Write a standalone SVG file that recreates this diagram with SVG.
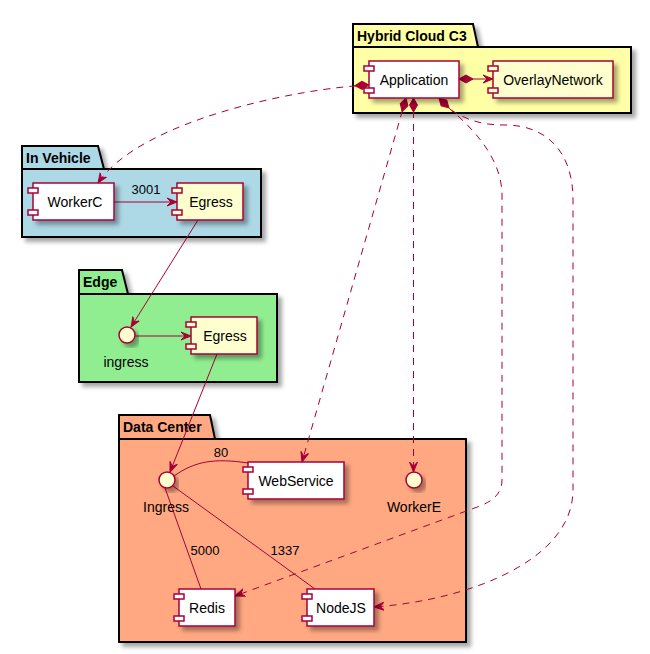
<svg xmlns="http://www.w3.org/2000/svg" width="650" height="654" viewBox="0 0 650 654">
<defs>
<filter id="sh" x="-10%" y="-10%" width="130%" height="140%">
<feDropShadow dx="4" dy="4" stdDeviation="2" flood-color="#000" flood-opacity="0.35"/>
</filter>
<marker id="arr" viewBox="0 -5 12 10" markerWidth="12" markerHeight="10" refX="10" refY="0" orient="auto" markerUnits="userSpaceOnUse">
<path d="M0,-4 L10,0 L0,4 L4,0 Z" fill="#A80036" stroke="#A80036" stroke-width="1"/>
</marker>
<marker id="dia" viewBox="-1 -6 17 12" markerWidth="17" markerHeight="12" refX="0" refY="0" orient="auto" markerUnits="userSpaceOnUse">
<path d="M0,0 L7,-4 L14,0 L7,4 Z" fill="#A80036" stroke="#A80036" stroke-width="1"/>
</marker>
</defs>
<style>
.pkg path.b{stroke:#000;stroke-width:2;filter:url(#sh)}
.pkg path.l{stroke:#000;stroke-width:2;fill:none}
.pt{font-family:"Liberation Sans",Arial,sans-serif;font-size:14px;font-weight:bold;fill:#000}
.c rect{stroke:#A80036;stroke-width:1.5}
.c rect.m{filter:url(#sh)}
.w{fill:#FFFFFF}
.y{fill:#FEFECE}
.i circle{fill:#FEFECE;stroke:#A80036;stroke-width:1.5;filter:url(#sh)}
.t{font-family:"Liberation Sans",Arial,sans-serif;font-size:14px;fill:#000;text-anchor:middle}
.el{font-family:"Liberation Sans",Arial,sans-serif;font-size:13px;fill:#000;text-anchor:middle}
#connectors path{fill:none;stroke:#A80036;stroke-width:1}
#connectors path.d{stroke-dasharray:7,6}
</style>

<g id="pkg-hybrid" class="pkg">
<path class="b" d="M353,24 L473,24 L478,47 L631,47 L631,113 L353,113 Z" fill="#FFFFA5"/>
<path class="l" d="M353,47 L478,47"/>
<text class="pt" x="357" y="41">Hybrid Cloud C3</text>
</g>
<g id="pkg-vehicle" class="pkg">
<path class="b" d="M22,146 L98,146 L104,169 L261,169 L261,237 L22,237 Z" fill="#ADD8E6"/>
<path class="l" d="M22,169 L104,169"/>
<text class="pt" x="26" y="163">In Vehicle</text>
</g>
<g id="pkg-edge" class="pkg">
<path class="b" d="M79,270 L122,270 L128,294 L277,294 L277,382 L79,382 Z" fill="#90EE90"/>
<path class="l" d="M79,294 L128,294"/>
<text class="pt" x="83" y="287">Edge</text>
</g>
<g id="pkg-dc" class="pkg">
<path class="b" d="M119,415 L210,415 L215,439 L466,439 L466,642 L119,642 Z" fill="#FFA882"/>
<path class="l" d="M119,439 L215,439"/>
<text class="pt" x="123" y="432">Data Center</text>
</g>

<g id="connectors">
<path d="M459,79 L493,79" marker-start="url(#dia)" marker-end="url(#arr)"/>
<path class="d" d="M369,85 C300,88 140,120 98,183" marker-start="url(#dia)" marker-end="url(#arr)"/>
<path class="d" d="M406,98 L302,462" marker-start="url(#dia)" marker-end="url(#arr)"/>
<path class="d" d="M413.5,98 L413.5,472" marker-start="url(#dia)" marker-end="url(#arr)"/>
<path class="d" d="M439,98 L451,110 C475,130 502,160 502,195 L502,480 C502,492 495,500 480,506 L235,596" marker-start="url(#dia)" marker-end="url(#arr)"/>
<path class="d" d="M451,110 C470,122 485,125 505,125 C545,125 573,150 573,200 L573,490 C573,560 470,600 374,607" marker-end="url(#arr)"/>
<path d="M114,202 L177,202" marker-end="url(#arr)"/>
<path d="M198,220 L131,327" marker-end="url(#arr)"/>
<path d="M135,336 L191,336" marker-end="url(#arr)"/>
<path d="M217,354 L170,472" marker-end="url(#arr)"/>
<path d="M174,476 C195,461 215,458 248,463"/>
<path d="M165,488 L201,589"/>
<path d="M173,486 L315,589"/>
<text class="el" x="146" y="194">3001</text>
<text class="el" x="221" y="457">80</text>
<text class="el" x="205" y="555">5000</text>
<text class="el" x="285" y="555">1337</text>
</g>

<g id="application" class="c">
<rect class="m w" x="369" y="61" width="90" height="37"/>
<rect class="w" x="364" y="66" width="10" height="5"/>
<rect class="w" x="364" y="88" width="10" height="5"/>
<text class="t" x="414" y="85">Application</text>
</g>
<g id="overlaynetwork" class="c">
<rect class="m y" x="493" y="61" width="120" height="37"/>
<rect class="y" x="488" y="66" width="10" height="5"/>
<rect class="y" x="488" y="88" width="10" height="5"/>
<text class="t" x="553" y="85">OverlayNetwork</text>
</g>
<g id="workerc" class="c">
<rect class="m w" x="33" y="183" width="81" height="37"/>
<rect class="w" x="28" y="188" width="10" height="5"/>
<rect class="w" x="28" y="210" width="10" height="5"/>
<text class="t" x="75" y="207">WorkerC</text>
</g>
<g id="egress-vehicle" class="c">
<rect class="m y" x="177" y="183" width="66" height="37"/>
<rect class="y" x="172" y="188" width="10" height="5"/>
<rect class="y" x="172" y="210" width="10" height="5"/>
<text class="t" x="211" y="207">Egress</text>
</g>
<g id="ingress-edge" class="i">
<circle cx="127" cy="335" r="8"/>
<text class="t" x="126" y="367">ingress</text>
</g>
<g id="egress-edge" class="c">
<rect class="m y" x="191" y="317" width="66" height="37"/>
<rect class="y" x="186" y="322" width="10" height="5"/>
<rect class="y" x="186" y="344" width="10" height="5"/>
<text class="t" x="225" y="341">Egress</text>
</g>
<g id="ingress-dc" class="i">
<circle cx="167" cy="480" r="8"/>
<text class="t" x="166" y="512">Ingress</text>
</g>
<g id="webservice" class="c">
<rect class="m w" x="248" y="462" width="96" height="37"/>
<rect class="w" x="243" y="467" width="10" height="5"/>
<rect class="w" x="243" y="489" width="10" height="5"/>
<text class="t" x="296" y="486">WebService</text>
</g>
<g id="workere" class="i">
<circle cx="414" cy="480" r="8"/>
<text class="t" x="414" y="512">WorkerE</text>
</g>
<g id="redis" class="c">
<rect class="m w" x="179" y="589" width="56" height="37"/>
<rect class="w" x="174" y="594" width="10" height="5"/>
<rect class="w" x="174" y="616" width="10" height="5"/>
<text class="t" x="207" y="613">Redis</text>
</g>
<g id="nodejs" class="c">
<rect class="m w" x="307" y="589" width="67" height="37"/>
<rect class="w" x="302" y="594" width="10" height="5"/>
<rect class="w" x="302" y="616" width="10" height="5"/>
<text class="t" x="341" y="613">NodeJS</text>
</g>
</svg>
